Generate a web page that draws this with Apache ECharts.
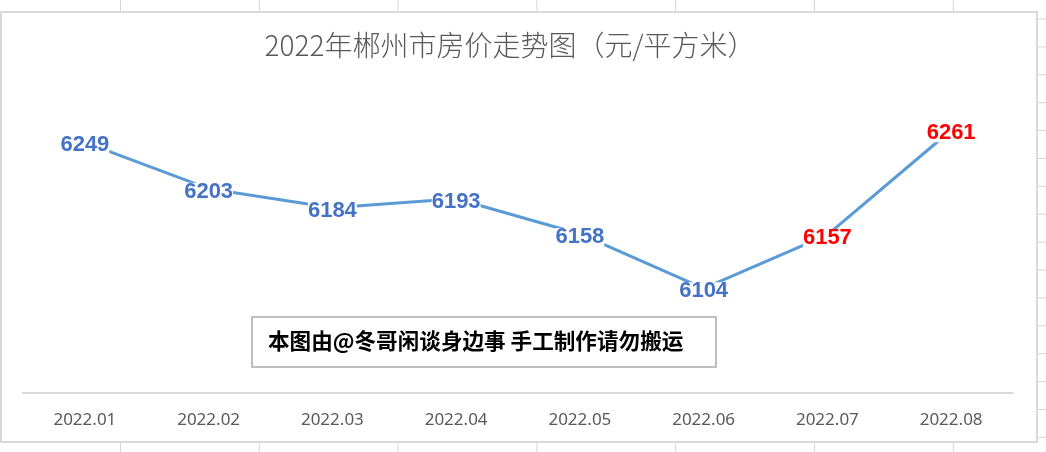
<!DOCTYPE html>
<html>
<head>
<meta charset="utf-8">
<script src="https://cdn.jsdelivr.net/npm/echarts@6/dist/echarts.min.js"></script>
<style>
  html, body { margin: 0; padding: 0; background: #fff; }
  #chart {
    width: 1046px; height: 452px;
    background-color: #fff;
    background-image:
      linear-gradient(to right, #d6d6d6 1px, transparent 1px),
      linear-gradient(to bottom, #d6d6d6 1px, transparent 1px);
    background-size: 138.8px 100%, 100% 27.9px;
    background-position: 120px 0, 0 18.5px;
  }
</style>
</head>
<body>
<div id="chart"></div>
<script>
// ---- data ----
const titleText = '2022年郴州市房价走势图（元/平方米）';
const watermarkText = '本图由@冬哥闲谈身边事 手工制作请勿搬运';
const categories = ['2022.01', '2022.02', '2022.03', '2022.04', '2022.05', '2022.06', '2022.07', '2022.08'];
const prices = [6249, 6203, 6184, 6193, 6158, 6104, 6157, 6261];
const redLabelMonths = ['2022.07', '2022.08'];

const seriesData = prices.map((v, i) => ({
  value: v,
  label: { color: redLabelMonths.includes(categories[i]) ? '#FF0000' : '#4472C4' }
}));

const chart = echarts.init(document.getElementById('chart'), null, { renderer: 'canvas' });
chart.setOption({
  animation: false,
  backgroundColor: 'transparent',
  title: {
    text: titleText,
    left: 510,
    top: 31,
    textAlign: 'center',
    padding: 0,
    textStyle: {
      fontFamily: 'Noto Sans CJK SC',
      fontSize: 28,
      fontWeight: 300,
      color: '#595959'
    }
  },
  graphic: [
    {
      type: 'rect',
      z: -10,
      shape: { x: 1, y: 12, width: 1036, height: 430 },
      style: { fill: '#ffffff', stroke: '#d9d9d9', lineWidth: 2 },
      silent: true
    },
    {
      type: 'group',
      z: 10,
      children: [
        {
          type: 'rect',
          shape: { x: 252, y: 317, width: 464, height: 50 },
          style: { fill: '#ffffff', stroke: '#bfbfbf', lineWidth: 2 }
        },
        {
          type: 'text',
          x: 268,
          y: 341,
          style: {
            text: watermarkText,
            fill: '#000000',
            font: 'bold 21.6px "Noto Sans CJK SC"',
            textAlign: 'left',
            textVerticalAlign: 'middle'
          }
        }
      ]
    }
  ],
  grid: { left: 23, right: 33, top: 91, bottom: 59, containLabel: false },
  xAxis: {
    type: 'category',
    data: categories,
    boundaryGap: true,
    axisLine: { show: true, lineStyle: { color: '#d9d9d9', width: 2 } },
    axisTick: { show: false },
    splitLine: { show: false },
    axisLabel: {
      color: '#595959',
      fontFamily: 'Noto Sans',
      fontSize: 17,
      margin: 19
    }
  },
  yAxis: {
    type: 'value',
    min: 6000,
    max: 6300,
    show: false,
    splitLine: { show: false }
  },
  series: [{
    type: 'line',
    data: seriesData,
    symbol: 'circle',
    symbolSize: 1,
    showSymbol: true,
    itemStyle: { color: 'rgba(0,0,0,0)' },
    lineStyle: { color: '#5B9BD5', width: 3 },
    z: 3,
    label: {
      show: true,
      position: 'inside',
      offset: [0, 3],
      fontFamily: 'Liberation Sans',
      fontWeight: 'bold',
      fontSize: 22,
      lineHeight: 18,
      backgroundColor: '#ffffff',
      padding: [0, 0]
    }
  }]
});
</script>
</body>
</html>
